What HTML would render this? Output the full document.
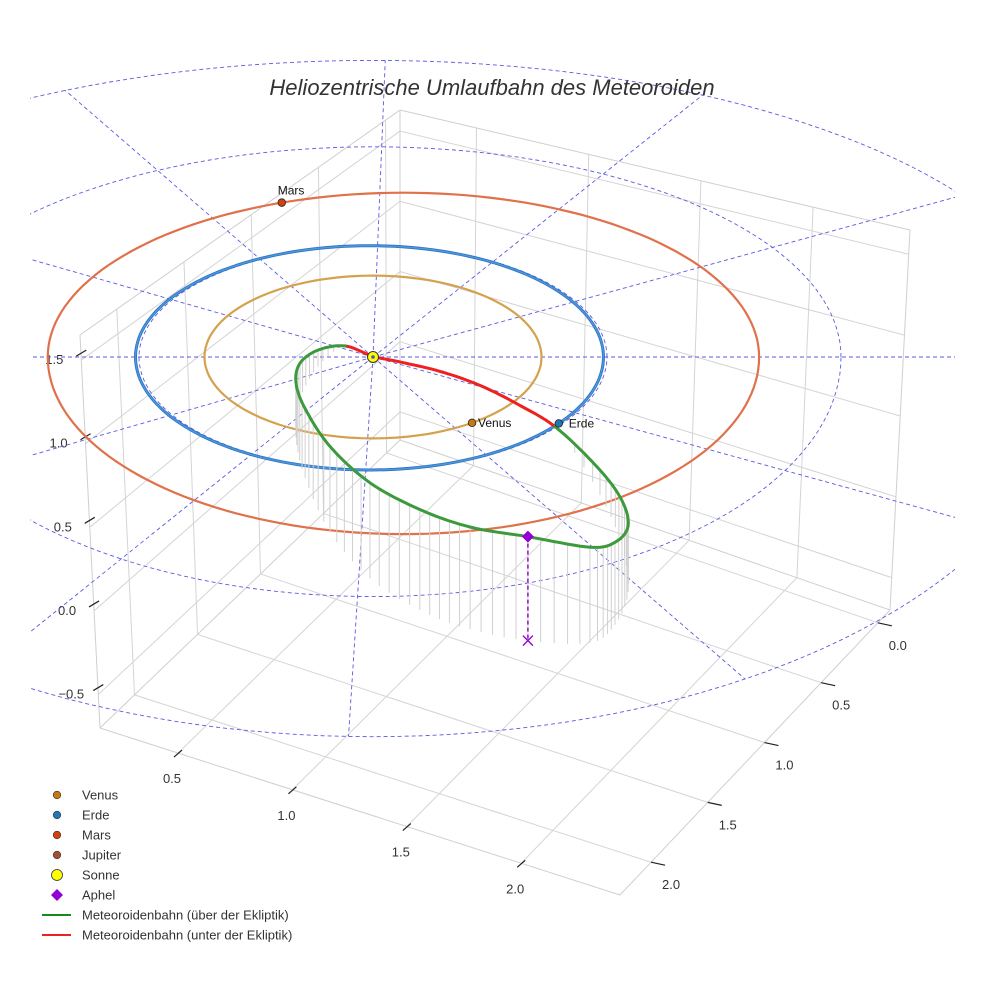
<!DOCTYPE html>
<html><head><meta charset="utf-8"><style>
html,body{margin:0;padding:0;background:#fff;}
svg{display:block;font-family:"Liberation Sans",sans-serif;}
</style></head><body>
<svg id="chart" width="984" height="984" viewBox="0 0 984 984" xmlns="http://www.w3.org/2000/svg">
<defs><clipPath id="clip"><rect x="30" y="0" width="925" height="984"/></clipPath></defs>
<g id="box"></g>
<g id="ticks"></g>
<g id="grid" clip-path="url(#clip)"></g>
<g id="orbits"></g>
<g id="meteor"></g>
<g id="marks"></g>
<text x="492" y="95" text-anchor="middle" font-size="22" font-style="italic" fill="#333">Heliozentrische Umlaufbahn des Meteoroiden</text>
<g id="legend"></g>
</svg>
<script>
// ---- data ----
const zTicks = [1.5, 1.0, 0.5, 0.0, -0.5];
const zTickLabels = ["1.5", "1.0", "0.5", "0.0", "\u22120.5"];
const yTicks = [0.5, 1.0, 1.5, 2.0];
const yTickLabels = ["0.5", "1.0", "1.5", "2.0"];
const xTicks = [0.0, 0.5, 1.0, 1.5, 2.0];
const xTickLabels = ["0.0", "0.5", "1.0", "1.5", "2.0"];
const planetNames = ["Venus", "Erde", "Mars"];
const planetRadii = [0.72, 1.0, 1.52];
const planetCenterOffset = [0.0, -0.015, 0.13];
const planetAngles = [-54, -36, 110];
const gridRadii = [1.0, 2.0, 3.0];
const spokeAngles = [0, 33, 62, 89, 116, 146, 180, 208, 236, 268, 302, 333];
// meteoroid orbit: ecliptic x, ecliptic y (AU), height above ecliptic (AU)
const meteorEx = [-0.12,-0.235,-0.312,-0.329,-0.29,-0.184,-0.013,0.2,0.415,0.662,0.927,1.034,1.09,1.064,0.97,0.786,0.628,0.457,0.286,0.115,0.0];
const meteorEy = [0.098,-0.085,-0.376,-0.71,-1.07,-1.55,-1.96,-2.24,-2.41,-2.51,-2.53,-2.37,-2.08,-1.68,-1.22,-0.63,-0.385,-0.178,-0.054,0.0,0.036];
const meteorH  = [0.0,0.1,0.22,0.33,0.42,0.52,0.58,0.61,0.62,0.63,0.58,0.5,0.4,0.28,0.15,0.0,-0.03,-0.05,-0.05,-0.03,-0.02];
const legendLabels = ["Venus","Erde","Mars","Jupiter","Sonne","Aphel","Meteoroidenbahn (über der Ekliptik)","Meteoroidenbahn (unter der Ekliptik)"];

const NS = "http://www.w3.org/2000/svg";
function mk(parent, tag, attrs){const e=document.createElementNS(NS,tag);for(const k in attrs)e.setAttribute(k,attrs[k]);parent.appendChild(e);return e;}

// ---- 3D box ----
const L=[100,728],F=[620,895],R=[890,610],B=[400,440];
const TL=[80,335],TB=[400,110],TR=[910,230];
function floorPt(u,v){const c=[R[0]-F[0]-B[0]+L[0],R[1]-F[1]-B[1]+L[1]];
 return [L[0]+u*(F[0]-L[0])+v*(B[0]-L[0])+u*v*c[0], L[1]+u*(F[1]-L[1])+v*(B[1]-L[1])+u*v*c[1]];}
function lerp(a,b,t){return [a[0]+(b[0]-a[0])*t,a[1]+(b[1]-a[1])*t];}
const zMin=-0.7,zMax=1.65;
function zt(z){return (z-zMin)/(zMax-zMin);}
function uOfY(y){return 0.15+(y-0.5)*0.44;}
function vOfX(x){return 0.955-x*0.42;}
const box=document.getElementById('box');
function gl(a,b,col,w){return mk(box,'line',{x1:a[0],y1:a[1],x2:b[0],y2:b[1],stroke:col||'#d4d4d4','stroke-width':w||1});}
[[L,F],[F,R],[L,B],[B,R],[L,TL],[B,TB],[R,TR],[TL,TB],[TB,TR]].forEach(p=>{const l=gl(p[0],p[1],'#cfcfcf',1);});
yTicks.forEach(y=>{const u=uOfY(y);const l=gl(floorPt(u,0),floorPt(u,1));
 const l2=gl(lerp(B,R,u),lerp(TB,TR,u));});
xTicks.forEach(x=>{const v=vOfX(x);const l=gl(floorPt(0,v),floorPt(1,v));
 const l2=gl(lerp(L,B,v),lerp(TL,TB,v));});
zTicks.forEach(z=>{const t=zt(z);const a=lerp(L,TL,t),b=lerp(B,TB,t),c=lerp(R,TR,t);
 const l=gl(a,b);
 const l2=gl(b,c);});
const tk=document.getElementById('ticks');
zTicks.forEach((z,i)=>{const p=lerp(L,TL,zt(z));
 const m=mk(tk,'line',{x1:p[0]-5,y1:p[1]-4,x2:p[0]+5,y2:p[1]-10,stroke:'#222','stroke-width':1.2});
 
 const t=mk(tk,'text',{x:p[0]-27,y:p[1]+4,'text-anchor':'middle','font-size':13,fill:'#333'});t.textContent=zTickLabels[i];
 });
yTicks.forEach((y,i)=>{const p=floorPt(uOfY(y),0);
 const m=mk(tk,'line',{x1:p[0]-4,y1:p[1]+4,x2:p[0]+4,y2:p[1]-3,stroke:'#222','stroke-width':1.2});
 
 const t=mk(tk,'text',{x:p[0]-6,y:p[1]+30,'text-anchor':'middle','font-size':13,fill:'#333'});t.textContent=yTickLabels[i];
 });
xTicks.forEach((x,i)=>{const p=floorPt(1,vOfX(x));
 const m=mk(tk,'line',{x1:p[0],y1:p[1],x2:p[0]+14,y2:p[1]+3,stroke:'#222','stroke-width':1.2});
 
 const t=mk(tk,'text',{x:p[0]+20,y:p[1]+27,'text-anchor':'middle','font-size':13,fill:'#333'});t.textContent=xTickLabels[i];
 });

// ---- ecliptic projection ----
const SUN=[373,357];
function kFactor(r,s){return s>0 ? Math.min(1,1.04-0.055*r) : (1+0.06*Math.max(0,r-1));}
function projXY(ex,ey){return [SUN[0]+234*ex, SUN[1]-113*ey];}
function proj(r,deg,off){const a=deg*Math.PI/180;const c=Math.cos(a),s=Math.sin(a);
 return [SUN[0]+234*(r*c+(off||0)), SUN[1]-113*r*s*kFactor(r,s)];}
const grid=document.getElementById('grid');
const dash={stroke:'#5a5ae0','stroke-width':0.9,'stroke-dasharray':'4 3',fill:'none'};
gridRadii.forEach(r=>{let d='';for(let k=0;k<=360;k+=2){const p=proj(r,k);d+=(k?'L':'M')+p[0].toFixed(1)+' '+p[1].toFixed(1);}
 const e=mk(grid,'path',Object.assign({d:d},dash));});
spokeAngles.forEach(a=>{const r=gridRadii[gridRadii.length-1];const p=proj(r,a);
 const e=mk(grid,'line',Object.assign({x1:SUN[0],y1:SUN[1],x2:p[0],y2:p[1]},dash));});

const orbits=document.getElementById('orbits');
const orbitCols=['#d4a24e','#4a9bd0','#e0714a'];
planetRadii.forEach((r,i)=>{let d='';for(let k=0;k<=360;k+=2){const p=proj(r,k,planetCenterOffset[i]);d+=(k?'L':'M')+p[0].toFixed(1)+' '+p[1].toFixed(1);}
 if(i===1){const e0=mk(orbits,'path',{d:d,stroke:'#2d6fd0','stroke-width':3,fill:'none'});}
 const e=mk(orbits,'path',{d:d,stroke:orbitCols[i],'stroke-width':i===1?1.4:2.2,fill:'none'});
 });

// ---- meteoroid orbit ----
const hScale=165;
const base=meteorEx.map((x,i)=>projXY(x,meteorEy[i]));
const pts=base.map((b,i)=>[b[0],b[1]-meteorH[i]*hScale,meteorH[i]]);
function cr(p0,p1,p2,p3,t){const t2=t*t,t3=t2*t;return [0,1,2].map(k=>0.5*((2*p1[k])+(-p0[k]+p2[k])*t+(2*p0[k]-5*p1[k]+4*p2[k]-p3[k])*t2+(-p0[k]+3*p1[k]-3*p2[k]+p3[k])*t3));}
const samp=[];const n=pts.length;
for(let i=0;i<n;i++){const p0=pts[(i-1+n)%n],p1=pts[i],p2=pts[(i+1)%n],p3=pts[(i+2)%n];for(let s=0;s<10;s++)samp.push(cr(p0,p1,p2,p3,s/10));}
samp.push(samp[0]);
const met=document.getElementById('meteor');
samp.forEach((p,i)=>{if(i%2===0&&p[2]>0.03){const e=mk(met,'line',{x1:p[0],y1:p[1],x2:p[0],y2:p[1]+p[2]*hScale,stroke:'#d0d0d0','stroke-width':1});
 }});
let dg='',dr='';
for(let i=0;i<samp.length-1;i++){const a=samp[i],b=samp[i+1];const seg='M'+a[0].toFixed(1)+' '+a[1].toFixed(1)+'L'+b[0].toFixed(1)+' '+b[1].toFixed(1);
 if((a[2]+b[2])/2>=-0.005)dg+=seg;else dr+=seg;}
const g1=mk(met,'path',{d:dg,stroke:'#3c9a3c','stroke-width':3,fill:'none','stroke-linecap':'round'});
const r1=mk(met,'path',{d:dr,stroke:'#ee2020','stroke-width':3,fill:'none','stroke-linecap':'round'});

// ---- bodies ----
const marks=document.getElementById('marks');
const planetCols=['#c8780f','#1f77b4','#d2420e'];
planetNames.forEach((nm,i)=>{const p=proj(planetRadii[i],planetAngles[i],planetCenterOffset[i]);
 const c=mk(marks,'circle',{cx:p[0],cy:p[1],r:3.8,fill:planetCols[i],stroke:'#222','stroke-width':0.8});
 
 const t=mk(marks,'text',{x:i===2?p[0]-4:p[0]+(i===1?10:6),y:i===2?p[1]-8:p[1]+4,'font-size':12,fill:'#111'});t.textContent=nm;
 });
const sun=mk(marks,'circle',{cx:SUN[0],cy:SUN[1],r:5.5,fill:'#ffff00',stroke:'#333','stroke-width':1});
const sund=mk(marks,'circle',{cx:SUN[0],cy:SUN[1],r:1.8,fill:'#5050d0'});
let ai=0;meteorH.forEach((h,i)=>{if(h>meteorH[ai])ai=i;});
const ap=pts[ai];const apBase=base[ai];
const al=mk(marks,'line',{x1:ap[0],y1:ap[1],x2:apBase[0],y2:apBase[1],stroke:'#9010c0','stroke-width':1.5,'stroke-dasharray':'4 3'});
const ad=mk(marks,'path',{d:`M${ap[0]} ${ap[1]-6}L${ap[0]+6} ${ap[1]}L${ap[0]} ${ap[1]+6}L${ap[0]-6} ${ap[1]}Z`,fill:'#9400d3'});
const ax=mk(marks,'path',{d:`M${apBase[0]-5} ${apBase[1]-5}L${apBase[0]+5} ${apBase[1]+5}M${apBase[0]+5} ${apBase[1]-5}L${apBase[0]-5} ${apBase[1]+5}`,stroke:'#9400d3','stroke-width':1.3});

// ---- legend ----
const lg=document.getElementById('legend');
const legCols=['#c8780f','#1f77b4','#d2420e','#a0522d'];
legendLabels.forEach((lab,i)=>{const y=795+i*20;
 let m;
 if(i<4){m=mk(lg,'circle',{cx:57,cy:y,r:3.8,fill:legCols[i],stroke:'#333','stroke-width':0.6});}
 else if(i===4){m=mk(lg,'circle',{cx:57,cy:y,r:5.5,fill:'#ffff00',stroke:'#333','stroke-width':0.8});}
 else if(i===5){m=mk(lg,'path',{d:`M57 ${y-6}L63 ${y}L57 ${y+6}L51 ${y}Z`,fill:'#9400d3'});}
 else {m=mk(lg,'line',{x1:42,y1:y,x2:71,y2:y,stroke:i===6?'#188a18':'#ee2020','stroke-width':2});}
 
 const t=mk(lg,'text',{x:82,y:y+4.5,'font-size':13,fill:'#333'});t.textContent=lab;
 });
</script>
</body></html>
